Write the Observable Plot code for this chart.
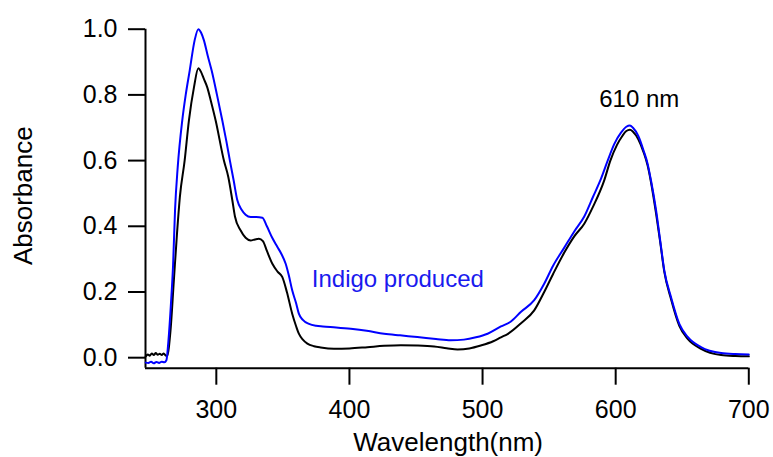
<!DOCTYPE html>
<html>
<head>
<meta charset="utf-8">
<script src="https://cdn.jsdelivr.net/npm/d3@7"></script>
<script src="https://cdn.jsdelivr.net/npm/@observablehq/plot@0.6"></script>
<style>
  html, body { margin: 0; padding: 0; background: #fff; }
</style>
</head>
<body>
<div id="chart"></div>
<script>
// ---- data ----
const blackWl = [247, 248.5, 250, 251.5, 253, 254.5, 256, 257.5, 259, 260.5, 262, 263, 265.6, 268.1, 270.5, 272.6, 276.2, 279.4, 283.2, 286.5, 288.5, 290.5, 293.2, 296, 299.5, 305.7, 309, 312, 314, 318.3, 322, 325.8, 329, 332, 335, 338, 342.1, 346, 349.6, 353, 357, 360, 362, 365, 368.4, 373.4, 378.4, 388.4, 400, 413.5, 426, 438.6, 451, 463.6, 473, 481.2, 490, 498.7, 508, 513.8, 518.8, 528.9, 538.8, 546.3, 553, 561.4, 569, 576.4, 583, 591.4, 596, 601, 605, 608, 610.7, 613, 617, 621, 624, 626.5, 630.3, 633.5, 636.5, 641.6, 647.8, 654.1, 664.1, 679.2, 690, 700];
const blackAbs = [0.004, 0.010, 0.006, 0.013, 0.008, 0.014, 0.009, 0.012, 0.008, 0.013, 0.006, 0.005, 0.083, 0.235, 0.38, 0.489, 0.60, 0.722, 0.823, 0.881, 0.87, 0.85, 0.823, 0.78, 0.722, 0.60, 0.55, 0.48, 0.43, 0.387, 0.365, 0.357, 0.36, 0.362, 0.355, 0.325, 0.286, 0.262, 0.245, 0.20, 0.134, 0.095, 0.073, 0.055, 0.043, 0.035, 0.031, 0.027, 0.028, 0.032, 0.036, 0.038, 0.037, 0.034, 0.029, 0.025, 0.028, 0.037, 0.05, 0.062, 0.072, 0.105, 0.144, 0.2, 0.255, 0.32, 0.37, 0.408, 0.46, 0.54, 0.6, 0.648, 0.675, 0.69, 0.694, 0.688, 0.665, 0.625, 0.585, 0.535, 0.44, 0.35, 0.262, 0.178, 0.097, 0.057, 0.027, 0.008, 0.005, 0.004];

const blueWl = [247, 249, 251, 253, 255, 257, 259, 261, 262.5, 264, 266, 267.5, 269, 271, 274.4, 277, 280, 283.7, 286.5, 288.5, 290.7, 293.5, 296.5, 300.5, 304.5, 307.5, 310.2, 313, 315.8, 319, 322, 325.8, 330, 334.6, 338, 342, 345.9, 349, 352.1, 354.5, 357, 360, 362, 365, 369.6, 375, 380, 390, 401, 413, 426, 438, 451, 465, 476, 486, 495, 503.8, 513.8, 521.3, 528.9, 538.8, 546.3, 553, 561.4, 569, 576.4, 583, 589, 594, 599, 604, 608, 610.7, 613, 617, 621, 624, 626.5, 630.3, 633.5, 636.5, 641.6, 647.8, 654.1, 664.1, 679.2, 690, 700];
const blueAbs = [-0.015, -0.016, -0.012, -0.017, -0.013, -0.016, -0.012, -0.014, -0.008, 0.05, 0.17, 0.28, 0.45, 0.58, 0.722, 0.80, 0.874, 0.966, 1.0, 0.99, 0.966, 0.92, 0.874, 0.80, 0.722, 0.66, 0.60, 0.54, 0.479, 0.45, 0.435, 0.428, 0.428, 0.426, 0.40, 0.365, 0.337, 0.315, 0.286, 0.25, 0.205, 0.165, 0.134, 0.115, 0.103, 0.097, 0.095, 0.092, 0.088, 0.082, 0.073, 0.068, 0.063, 0.057, 0.053, 0.055, 0.062, 0.073, 0.095, 0.11, 0.14, 0.175, 0.225, 0.28, 0.335, 0.385, 0.43, 0.49, 0.545, 0.60, 0.651, 0.685, 0.703, 0.707, 0.70, 0.675, 0.63, 0.59, 0.54, 0.45, 0.355, 0.266, 0.184, 0.103, 0.063, 0.032, 0.014, 0.011, 0.010];

const xTicks = [300, 400, 500, 600, 700];
const yTicks = [0.0, 0.2, 0.4, 0.6, 0.8, 1.0];
const xDomain = [246.8, 700];
const yDomain = [-0.032, 1.0];

const peakNote = [{x: 617.7, y: 0.786, text: "610 nm"}];
const seriesNote = [{x: 371.7, y: 0.238, text: "Indigo produced"}];
const xLabel = "Wavelength(nm)";
const yLabel = "Absorbance";

const black = blackWl.map((w, i) => ({wl: w, a: blackAbs[i]}));
const blue = blueWl.map((w, i) => ({wl: w, a: blueAbs[i]}));

const font = "'Liberation Sans', Arial, sans-serif";

const chart = Plot.plot({
  width: 773,
  height: 457,
  marginLeft: 145,
  marginRight: 24.7,
  marginTop: 28.7,
  marginBottom: 89.3,
  style: {fontFamily: font, fontSize: "25px", background: "#fff", color: "#000", overflow: "visible"},
  x: {domain: xDomain},
  y: {domain: yDomain},
  marks: [
    Plot.ruleX([xDomain[0]], {y1: yDomain[0], y2: yDomain[1], stroke: "#000", strokeWidth: 2}),
    Plot.ruleY([yDomain[0]], {x1: xDomain[0], x2: xDomain[1], stroke: "#000", strokeWidth: 2}),
    Plot.axisY({ticks: yTicks, tickFormat: d3.format(".1f"), tickSize: 17, tickPadding: 11, strokeWidth: 2, fontSize: 25, label: null}),
    Plot.axisX({ticks: xTicks, tickFormat: d3.format("d"), tickSize: 17, tickPadding: 15, strokeWidth: 2, fontSize: 25, label: null}),
    Plot.line(black, {x: "wl", y: "a", stroke: "#000", strokeWidth: 2, curve: "monotone-x"}),
    Plot.line(blue, {x: "wl", y: "a", stroke: "#0000ff", strokeWidth: 2, curve: "monotone-x"}),
    Plot.text(peakNote, {x: "x", y: "y", text: "text", fill: "#000", textAnchor: "middle", lineAnchor: "middle", fontSize: 24}),
    Plot.text(seriesNote, {x: "x", y: "y", text: "text", fill: "#1a1aee", textAnchor: "start", lineAnchor: "middle", fontSize: 24}),
    Plot.text([xLabel], {frameAnchor: "bottom", text: d => d, textAnchor: "middle", lineAnchor: "middle", dy: 74, dx: 1, fontSize: 26, fill: "#000"}),
    Plot.text([yLabel], {frameAnchor: "left", text: d => d, textAnchor: "middle", lineAnchor: "middle", rotate: -90, dx: -122, dy: -3, fontSize: 26, fill: "#000"})
  ]
});

document.getElementById("chart").appendChild(chart);
</script>
</body>
</html>
